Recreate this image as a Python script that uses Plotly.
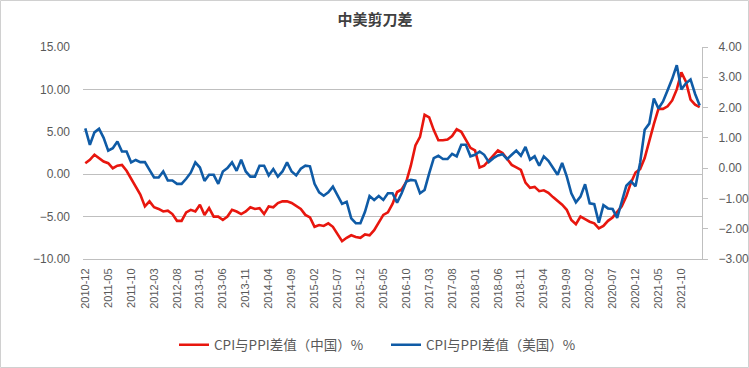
import plotly.graph_objects as go

# ---- data ----
def month_labels(start_year, start_month, n):
    out = []
    y, m = start_year, start_month
    for _ in range(n):
        out.append(f"{y}-{m:02d}")
        m += 1
        if m > 12:
            m = 1
            y += 1
    return out

china = [
    1.3,
    1.7, 2.3, 1.9, 1.5, 1.3, 0.7, 1.0, 1.1, 0.4, -0.5, -1.5, -2.4,
    -3.8, -3.2, -3.9, -4.1, -4.4, -4.3, -4.7, -5.5, -5.5, -4.5, -4.2, -4.4,
    -3.6, -4.8, -4.0, -5.0, -5.0, -5.4, -5.0, -4.2, -4.4, -4.7, -4.4, -3.9,
    -4.1, -4.0, -4.7, -3.8, -3.9, -3.4, -3.2, -3.2, -3.4, -3.8, -4.1, -4.8,
    -5.1, -6.2, -6.0, -6.1, -5.8, -6.2, -7.0, -7.9, -7.5, -7.2, -7.4, -7.5,
    -7.1, -7.2, -6.6, -5.7, -4.8, -4.5, -3.5, -2.1, -1.8, -0.9, 1.0, 3.4,
    4.4, 7.0, 6.7, 5.2, 4.0, 4.0, 4.1, 4.5, 5.3, 5.0, 4.1, 3.1,
    2.8, 0.8, 1.0, 1.6, 2.3, 2.8, 2.5, 1.8, 1.1, 0.8, 0.5, -1.0,
    -1.6, -1.5, -2.0, -1.9, -2.2, -2.7, -3.1, -3.6, -4.2, -5.4, -5.9, -5.0,
    -5.3, -5.6, -5.8, -6.4, -6.1, -5.5, -5.1, -4.4, -3.8, -2.6, -1.0, 0.2,
    0.6, 1.9, 4.0, 5.9, 7.7, 7.7, 8.0, 8.7, 10.0, 12.0, 10.9, 8.8,
    8.2, 7.9,
]

usa = [
    1.31,
    0.77, 1.18, 1.30, 1.00, 0.58, 0.66, 0.88, 0.55, 0.55, 0.19, 0.27, 0.20,
    0.20, -0.06, -0.31, -0.31, -0.11, -0.41, -0.41, -0.52, -0.52, -0.35, -0.15, 0.19,
    0.02, -0.42, -0.22, -0.22, -0.52, -0.11, 0.00, 0.19, -0.09, 0.28, -0.11, -0.28,
    -0.28, 0.08, 0.08, -0.24, -0.03, -0.28, -0.11, 0.19, -0.11, -0.24, -0.02, 0.08,
    0.06, -0.52, -0.80, -0.91, -0.80, -0.61, -0.91, -1.18, -1.11, -1.66, -1.82, -1.82,
    -1.44, -0.92, -1.05, -0.92, -1.05, -0.83, -0.83, -1.14, -0.83, -0.44, -0.39, -0.41,
    -0.83, -0.72, -0.17, 0.33, 0.41, 0.30, 0.30, 0.47, 0.39, 0.77, 0.77, 0.39,
    0.44, 0.55, 0.44, 0.20, 0.33, 0.42, 0.46, 0.30, 0.44, 0.58, 0.41, 0.70,
    0.28, 0.39, 0.08, 0.39, 0.24, 0.00, -0.22, 0.17, -0.27, -0.83, -1.13, -0.94,
    -0.53, -1.16, -1.19, -1.80, -1.22, -1.33, -1.35, -1.64, -1.14, -0.58, -0.43, -0.60,
    0.17, 1.27, 1.47, 2.30, 1.97, 2.20, 2.57, 2.95, 3.40, 2.60, 2.80, 2.93,
    2.45, 2.07,
]

months = month_labels(2010, 12, len(china))
tick_labels = months[::5]

left_ticks = [-10, -5, 0, 5, 10, 15]
right_ticks = [-3, -2, -1, 0, 1, 2, 3, 4]

RED = "#E8160E"
BLUE = "#0F5BA6"
GRID = "#BFBFBF"
TXT = "#595959"
FONT = "Liberation Sans, Noto Sans CJK SC"

fig = go.Figure()
fig.add_trace(go.Scatter(
    x=months, y=china, mode="lines", name="CPI与PPI差值（中国）%",
    line=dict(color=RED, width=2.6), yaxis="y"))
fig.add_trace(go.Scatter(
    x=months, y=usa, mode="lines", name="CPI与PPI差值（美国）%",
    line=dict(color=BLUE, width=2.6), yaxis="y2"))

W, H = 749, 368
L, R, T, B = 83, 47, 47, 109
pw, ph = W - L - R, H - T - B

fig.update_layout(
    width=W, height=H,
    margin=dict(l=L, r=R, t=T, b=B, pad=0, autoexpand=False),
    paper_bgcolor="white", plot_bgcolor="white",
    font=dict(family=FONT, size=12, color=TXT),
    title=dict(text="<b>中美剪刀差</b>", x=375 / W, xref="container", xanchor="center",
               y=1 - 20 / H, yref="container", yanchor="middle",
               font=dict(family="Noto Sans CJK SC", size=15, color="#404040")),
    showlegend=True,
    legend=dict(orientation="h", x=386 / W, xref="container", xanchor="center",
                y=1 - 345 / H, yref="container", yanchor="middle",
                font=dict(family="Liberation Sans Narrow, Noto Sans CJK SC", size=13.5, color=TXT),
                itemwidth=30, entrywidth=167, entrywidthmode="pixels",
                bgcolor="rgba(0,0,0,0)"),
    xaxis=dict(type="category", categoryorder="array", categoryarray=months,
               range=[-0.5, len(months) - 0.5], automargin=False,
               tickmode="array", tickvals=tick_labels, ticktext=tick_labels,
               tickangle=-90, showgrid=False, showline=True, linecolor=GRID, linewidth=1,
               ticks="", ticklabelstandoff=4,
               tickfont=dict(family=FONT, size=11, color=TXT), zeroline=False),
    yaxis=dict(range=[-10, 15], tickmode="array", tickvals=left_ticks, automargin=False,
               tickformat=".2f", showgrid=True, gridcolor=GRID, gridwidth=1,
               zeroline=False, showline=False, ticks="", ticklabelstandoff=12,
               tickfont=dict(family=FONT, size=12, color=TXT)),
    yaxis2=dict(range=[-3, 4], tickmode="array", tickvals=right_ticks, automargin=False,
                tickformat=".2f", overlaying="y", side="right", showgrid=False,
                zeroline=False, showline=True, linecolor=GRID, linewidth=1,
                ticks="outside", ticklen=5, tickcolor=GRID, ticklabelstandoff=8,
                tickfont=dict(family=FONT, size=12, color=TXT)),
)

# outer chart border
fig.add_shape(type="rect", xref="paper", yref="paper",
              x0=(0.5 - L) / pw, x1=(W - 0.5 - L) / pw,
              y0=-(B - 0.5) / ph, y1=1 + (T - 0.5) / ph,
              line=dict(color="#D0D0D0", width=1), fillcolor="rgba(0,0,0,0)", layer="below")

fig.write_html("out.html", config={"displayModeBar": False},
               post_script="document.body.style.margin='0';document.body.style.overflow='hidden';")
